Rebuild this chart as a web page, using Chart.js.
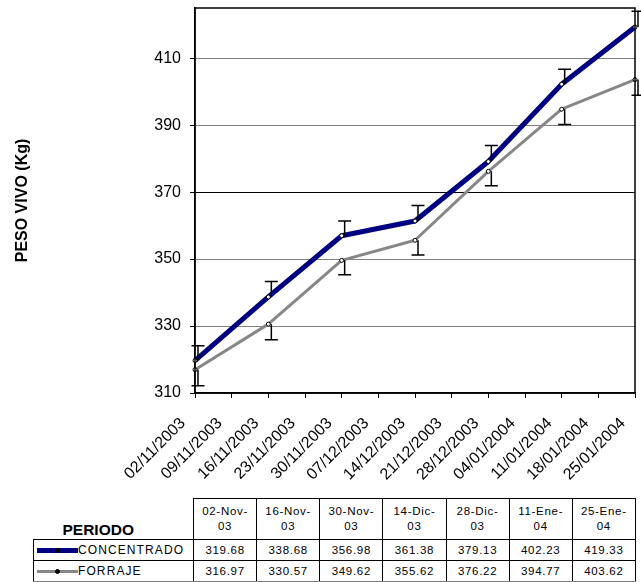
<!DOCTYPE html>
<html>
<head>
<meta charset="utf-8">
<script src="https://cdn.jsdelivr.net/npm/chart.js@4.4.1/dist/chart.umd.min.js"></script>
<style>
  html, body { margin: 0; padding: 0; background: #fff; }
  body { width: 641px; height: 582px; position: relative; overflow: hidden; font-family: "Liberation Sans", Arial, sans-serif; }
  #wrap { position: absolute; left: 0; top: 0; width: 641px; height: 497px; }
  #dataTable { position: absolute; left: 33px; top: 498px; border-collapse: collapse; table-layout: fixed; }
  #dataTable td { padding: 0; text-align: center; color: #000; font-size: 11.5px; letter-spacing: 0.7px; }
  #dataTable td.d { border: 1px solid #000; }
  #dataTable tr.hdr td { height: 38px; line-height: 15px; }
  #dataTable tr.row td { height: 20px; }
  #dataTable tr.last td { border-bottom: 2px solid #808080; }
  #dataTable td.lbl { text-align: left; border-left: 1px solid #000; border-top: 1px solid #000; font-size: 12px; letter-spacing: 1.1px; white-space: nowrap; }
  #dataTable td.per { font-weight: bold; font-size: 15.5px; letter-spacing: 0; vertical-align: bottom; padding-bottom: 2px; text-align: center; padding-right: 30px; }
  .key { display: inline-block; position: relative; width: 41px; vertical-align: middle; margin-left: 3px; }
  .key i { position: absolute; left: 18px; width: 3px; height: 3px; border-radius: 50%; background: #000; border: 1px solid #000; }
</style>
</head>
<body>
<div id="wrap"><canvas id="pesoChart" width="641" height="497"></canvas></div>
<table id="dataTable"></table>
<script>
document.addEventListener("DOMContentLoaded", function () {
  const canvas = document.getElementById("pesoChart");
  const ctx = canvas.getContext("2d");

  // weekly axis labels, values only every two weeks
  const dateLabels = ["02/11/2003", "09/11/2003", "16/11/2003", "23/11/2003", "30/11/2003", "07/12/2003", "14/12/2003", "21/12/2003", "28/12/2003", "04/01/2004", "11/01/2004", "18/01/2004", "25/01/2004"];
  const periodos = ["02-Nov-03", "16-Nov-03", "30-Nov-03", "14-Dic-03", "28-Dic-03", "11-Ene-04", "25-Ene-04"];
  const concentrado = [319.68, 338.68, 356.98, 361.38, 379.13, 402.23, 419.33];
  const forraje = [316.97, 330.57, 349.62, 355.62, 376.22, 394.77, 403.62];
  const errConcentrado = [4.4, 4.6, 4.4, 4.6, 4.8, 4.5, 4.7]; // drawn upwards
  const errForraje = [4.8, 4.7, 4.3, 4.4, 4.3, 4.6, 4.7];     // drawn downwards
  const yTicks = [310, 330, 350, 370, 390, 410];
  const yMin = 310;
  const yMax = 425;

  const navy = "#000080";
  const grey = "#878787";

  // spread the biweekly values over the weekly category axis
  function onWeeks(values) {
    const out = Array(dateLabels.length).fill(null);
    values.forEach(function (v, i) { out[i * 2] = v; });
    return out;
  }

  const errorBars = {
    id: "errorBars",
    afterDatasetsDraw: function (chart) {
      const x = chart.scales.x;
      const y = chart.scales.y;
      const c = chart.ctx;
      c.save();
      c.strokeStyle = "#000";
      c.lineWidth = 1.5;
      function bar(i, from, to) {
        const px = x.getPixelForValue(i * 2) + 3;
        const y1 = y.getPixelForValue(from);
        const y2 = y.getPixelForValue(to);
        c.beginPath();
        c.moveTo(px, y1); c.lineTo(px, y2);
        c.moveTo(px - 6.5, y2); c.lineTo(px + 6.5, y2);
        c.stroke();
      }
      concentrado.forEach(function (v, i) { bar(i, v, v + errConcentrado[i]); });
      forraje.forEach(function (v, i) { bar(i, v, v - errForraje[i]); });
      c.restore();
    },
    afterDraw: function (chart) {
      const a = chart.chartArea;
      const c = chart.ctx;
      c.save();
      c.strokeStyle = "#000";
      c.lineWidth = 1.5;
      c.strokeRect(a.left, a.top, a.right - a.left, a.bottom - a.top);
      c.restore();
    }
  };

  const data = {
    labels: dateLabels,
    datasets: [
      {
        label: "CONCENTRADO",
        data: onWeeks(concentrado),
        borderColor: navy,
        borderWidth: 5,
        spanGaps: true,
        pointRadius: 2,
        pointBorderWidth: 1,
        pointBorderColor: "#000",
        pointBackgroundColor: "#fff",
      },
      {
        label: "FORRAJE",
        data: onWeeks(forraje),
        borderColor: grey,
        borderWidth: 3,
        spanGaps: true,
        pointRadius: 2,
        pointBorderWidth: 1,
        pointBorderColor: "#000",
        pointBackgroundColor: "#fff",
      },
    ],
  };

  const options = {
    responsive: false,
    animation: false,
    layout: { padding: { top: 8, right: 6, left: 0, bottom: 0 } },
    datasets: { line: { tension: 0 } },
    elements: { line: { borderJoinStyle: "round" } },
    scales: {
      x: {
        type: "category",
        offset: false,
        afterFit: function (s) { s.height = 104; s.paddingLeft = 0; s.paddingRight = 0; },
        grid: { drawOnChartArea: false, drawTicks: true, tickLength: 5, tickColor: "#000", tickWidth: 1 },
        border: { color: "#000", width: 1.5 },
        ticks: {
          autoSkip: false,
          maxRotation: 45,
          minRotation: 45,
          padding: 16,
          labelOffset: -12,
          color: "#000",
          font: { family: "Liberation Sans", size: 16 },
        },
      },
      y: {
        min: yMin,
        max: yMax,
        afterFit: function (s) { s.width = 195; s.paddingTop = 0; s.paddingBottom = 0; },
        afterBuildTicks: function (s) {
          s.ticks = yTicks.map(function (v) { return { value: v }; });
        },
        grid: {
          color: function (c) { return c.tick && c.tick.value === 370 ? "#000" : "#808080"; },
          lineWidth: 1,
          drawTicks: true,
          tickLength: 5,
          tickColor: "#000",
        },
        border: { color: "#000", width: 1.5 },
        ticks: {
          padding: 9,
          color: "#000",
          font: { family: "Liberation Sans", size: 16 },
        },
        title: {
          display: true,
          text: "PESO VIVO (Kg)",
          color: "#000",
          font: { family: "Liberation Sans", size: 16, weight: "bold" },
          padding: { top: 13, bottom: 0 },
        },
      },
    },
    plugins: {
      legend: { display: false },
      tooltip: { enabled: false },
    },
  };

  new Chart(ctx, {
    type: "line",
    data: data,
    options: options,
    plugins: [errorBars],
  });

  // data table under the chart
  const table = document.getElementById("dataTable");
  let html = '<colgroup><col style="width:160px">';
  periodos.forEach(function () { html += '<col style="width:63.14px">'; });
  html += '</colgroup><tr class="hdr"><td class="per">PERIODO</td>';
  periodos.forEach(function (p) {
    const cut = p.lastIndexOf("-") + 1;
    html += '<td class="d">' + p.slice(0, cut) + "<br>" + p.slice(cut) + "</td>";
  });
  html += "</tr>";
  function row(name, color, thick, values, cls) {
    let r = '<tr class="row ' + cls + '"><td class="lbl"><span class="key" style="height:' + thick + "px;background:" + color + '"><i style="top:' + (thick / 2 - 2.5) + 'px"></i></span>' + name + "</td>";
    values.forEach(function (v) { r += '<td class="d">' + v.toFixed(2) + "</td>"; });
    return r + "</tr>";
  }
  html += row("CONCENTRADO", navy, 5, concentrado, "");
  html += row("FORRAJE", grey, 3.5, forraje, "last");
  table.innerHTML = html;
});
</script>
</body>
</html>
